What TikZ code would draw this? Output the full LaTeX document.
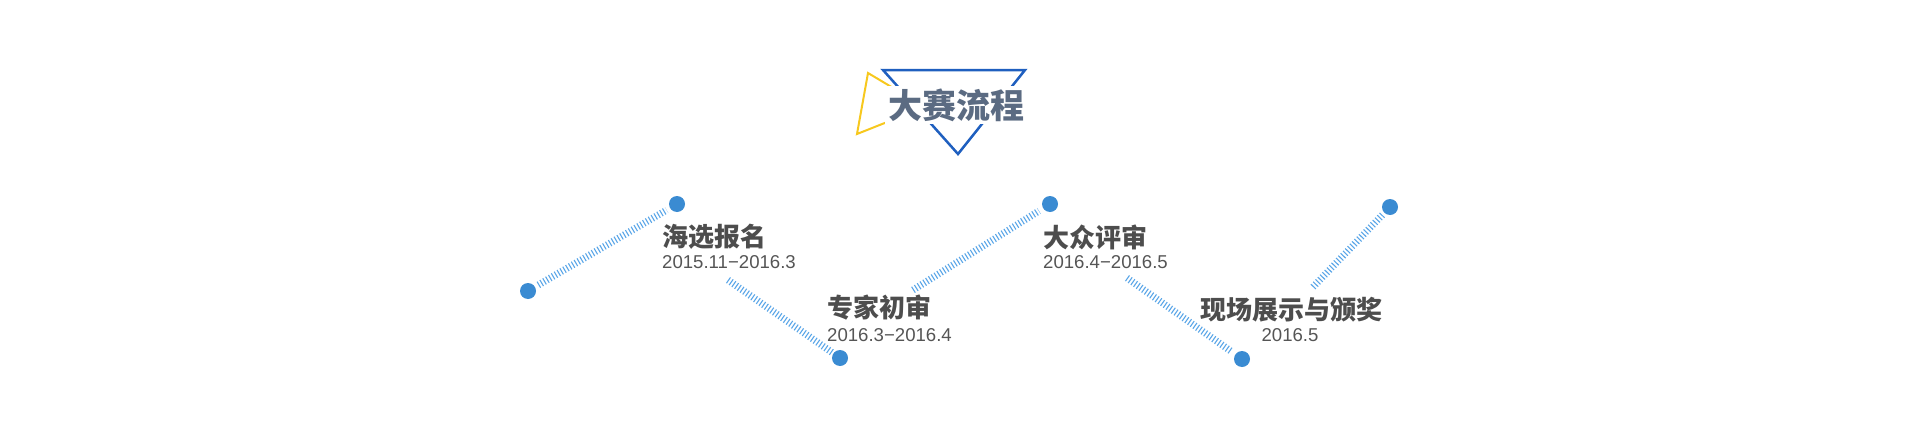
\documentclass[tikz,border=0pt]{standalone}
\usepackage{fontspec}
\newfontfamily\cjk{Noto Sans CJK SC}
\newfontfamily\datefont{Liberation Sans}
\usetikzlibrary{positioning}
\definecolor{dotblue}{HTML}{3A8BD2}
\definecolor{hatchblue}{HTML}{5AA6E8}
\definecolor{tribluec}{HTML}{1F5FBF}
\definecolor{triyellow}{HTML}{F7C81E}
\definecolor{headgray}{HTML}{5B6B82}
\definecolor{titlegray}{HTML}{4D4D4D}
\definecolor{timegray}{HTML}{555555}
\tikzset{
    stepdot/.style={
        circle,
        fill=dotblue,
        minimum size=16pt,
        inner sep=0pt
    },
    hatch/.style={
        draw=hatchblue,
        line width=7pt,
        dash pattern=on 1.1pt off 2.2pt
    },
    steptitle/.style={
        font=\cjk\bfseries\fontsize{26}{26}\selectfont,
        text=titlegray,
        inner sep=0pt
    },
    steptime/.style={
        font=\datefont\fontsize{18.6}{18.6}\selectfont,
        text=timegray,
        inner sep=0pt
    },
    headline/.style={
        font=\cjk\bfseries\fontsize{34}{34}\selectfont,
        text=headgray,
        fill=white,
        inner sep=3pt
    }
}

\begin{document}
\begin{tikzpicture}[x=1pt, y=-1pt]
\useasboundingbox (0,0) rectangle (1920,439);

% Heading triangles
\draw[tribluec, line width=2.5pt] (883,70) -- (1025,70) -- (958,154) -- cycle;
\draw[triyellow, line width=2pt] (868,73) -- (925,107) -- (857,134) -- cycle;
\node[headline] (head) at (956,105) {大赛流程};

% Dots
\node[stepdot] (d1) at (528,291) {};
\node[stepdot] (d2) at (677,204) {};
\node[stepdot] (d3) at (840,358) {};
\node[stepdot] (d4) at (1050,204) {};
\node[stepdot] (d5) at (1242,359) {};
\node[stepdot] (d6) at (1390,207) {};

% Free ends of the hatched lines
\coordinate (c2) at (728,280);
\coordinate (c3) at (913,290);
\coordinate (c4) at (1127,278);
\coordinate (c5) at (1313,287);

% Steps
\node[steptitle, anchor=west] (t1) at (662,237) {海选报名};
\node[steptime, anchor=west] (s1) at (662,262) {2015.11−2016.3};

\node[steptitle, anchor=west] (t2) at (827,308) {专家初审};
\node[steptime, anchor=west] (s2) at (827,335) {2016.3−2016.4};

\node[steptitle, anchor=west] (t3) at (1043,237) {大众评审};
\node[steptime, anchor=west] (s3) at (1043,262) {2016.4−2016.5};

\node[steptitle] (t4) at (1291,310) {现场展示与颁奖};
\node[steptime] (s4) at (1290,335) {2016.5};

% Hatched lines
\draw[hatch, shorten <=12pt, shorten >=12pt] (d1.center) -- (d2.center);
\draw[hatch, shorten >=10pt] (c2) -- (d3.center);
\draw[hatch, shorten >=13pt] (c3) -- (d4.center);
\draw[hatch, shorten >=13pt] (c4) -- (d5.center);
\draw[hatch, shorten >=11pt] (c5) -- (d6.center);

\end{tikzpicture}
\end{document}
